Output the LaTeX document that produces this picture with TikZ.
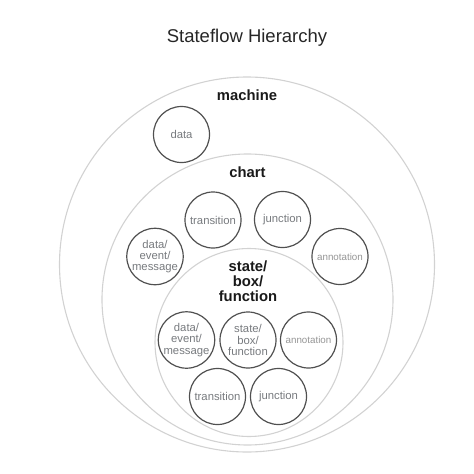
\documentclass[tikz,border=0pt]{standalone}
\usepackage{fontspec}
\setmainfont{Liberation Sans}
\definecolor{ringgray}{HTML}{D2D2D2}
\definecolor{edgegray}{HTML}{505050}
\definecolor{labgray}{HTML}{777A7E}
\definecolor{anngray}{HTML}{959595}
\begin{document}
\begin{tikzpicture}[x=1pt,y=-1pt,
  ring/.style={circle,draw=ringgray,line width=1.1pt,inner sep=0pt},
  item/.style={circle,draw=edgegray,line width=1.2pt,minimum size=56pt,inner sep=0pt,
    text=labgray,align=center,font=\fontsize{11.3}{11.3}\selectfont},
  anno/.style={item,text=anngray,font=\fontsize{9.8}{10}\selectfont},
  head/.style={font=\fontsize{14.8}{15}\selectfont\bfseries,align=center,text=black!90}]
\useasboundingbox (0,0) rectangle (474,474);
\node (title) at (247,38) {\fontsize{18.5}{20}\selectfont\color{black!85}Stateflow Hierarchy};
% rings
\node[ring,minimum size=375pt] (machine) at (247,264.5) {};
\node[ring,minimum size=291pt] (chart) at (247.5,299.5) {};
\node[ring,minimum size=188pt] (state) at (249,342.5) {};
% headings
\node[head] (machinelab) at (247,95) {machine};
\node[head] (chartlab) at (247.5,172) {chart};
\node[head] (statelab) at (248,281) {state/\\box/\\function};
% machine level
\node[item] (mdata) at (181.5,134.5) {data};
% chart level
\node[item] (ctrans) at (213,220) {transition};
\node[item] (cjunc) at (282.5,219.5) {junction};
\node[item] (cdata) at (155,256.5) {data/\\event/\\message};
\node[anno] (cann) at (340,256.5) {annotation};
% state level
\node[item] (sdata) at (186.5,340) {data/\\event/\\message};
\node[item] (sstate) at (248,340) {state/\\box/\\function};
\node[anno] (sann) at (308.5,340) {annotation};
\node[item] (strans) at (217.5,396.5) {transition};
\node[item] (sjunc) at (278.5,396.5) {junction};
\end{tikzpicture}
\end{document}
